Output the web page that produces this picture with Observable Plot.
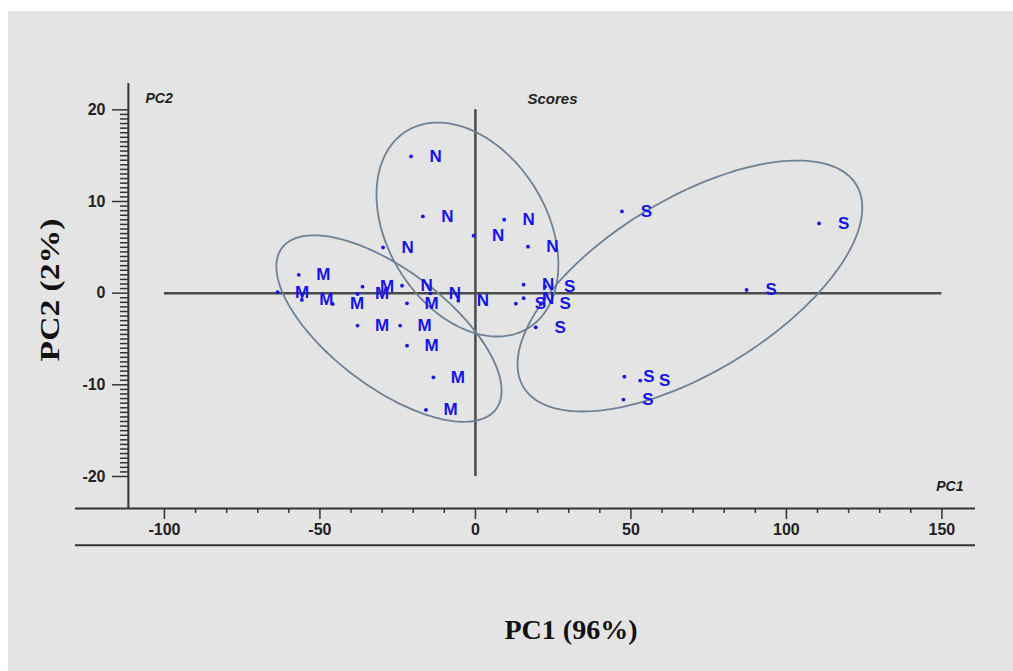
<!DOCTYPE html>
<html><head><meta charset="utf-8">
<script src="https://cdn.jsdelivr.net/npm/d3@7"></script>
<script src="https://cdn.jsdelivr.net/npm/@observablehq/plot@0.6"></script>
<style>
body{margin:0;background:#fff;width:1013px;height:671px;overflow:hidden;position:relative}
#panel{position:absolute;left:8px;top:11px;width:1005px;height:660px;background:#e4e4e4}
#chart{position:absolute;left:0;top:0}
.ytitle{position:absolute;left:50px;top:290px;transform:translate(-50%,-50%) rotate(-90deg) scaleX(1.2);font:bold 28px "Liberation Serif","Times New Roman",serif;white-space:nowrap;color:#111}
.xtitle{position:absolute;left:571px;top:630px;transform:translate(-50%,-50%);font:bold 28px "Liberation Serif","Times New Roman",serif;white-space:nowrap;color:#111}
</style>
</head><body>
<div id="panel"></div>
<div id="chart"></div>
<div class="ytitle">PC2 (2%)</div>
<div class="xtitle">PC1 (96%)</div>
<script>
// Scores, group M
const mX = [-56.8,-63.6,-55.8,-45.9,-37.9,-36.3,-37.9,-24.2,-22.0,-22.0,-13.5,-15.9];
const mY = [2.0,0.1,-0.74,-1.18,-0.09,0.71,-3.54,-3.54,-1.11,-5.73,-9.18,-12.74];
// group N
const nX = [-20.7,-16.9,-29.7,-0.6,9.25,16.9,15.5,15.5,-23.6,-14.5,-5.5];
const nY = [14.92,8.37,4.99,6.27,8.02,5.07,0.93,-0.55,0.82,-0.02,-0.82];
// group S
const sX = [47.1,110.5,87.2,22.4,13.0,21.0,19.4,47.9,53.0,47.6];
const sY = [8.92,7.61,0.35,0.71,-1.15,-1.18,-3.73,-9.11,-9.54,-11.61];

// confidence ellipses: center and two conjugate half-axis vectors (data units)
const ellGroups = ["M","N","S"];
const ellCx = [-27.8,-2.57,68.97];
const ellCy = [-3.86,6.94,0.78];
const ellAx = [34.4,19.6,53.5];
const ellAy = [-8.8,-10.74,11.04];
const ellBx = [-11.3,-21.7,14.5];
const ellBy = [-5.1,-4.56,-8.09];

// axes
const xMajor = [-100,-50,0,50,100,150];
const xMinor = d3.range(-90,141,10).filter(v => v % 50 !== 0);
const yMajor = [-20,-10,0,10,20];
const yMinor = d3.range(-20,20.01,0.5).filter(v => v % 10 !== 0);
const xDomain = [-128.6,160.8];
const yDomain = [-23.49,22.87];
const yAxisAt = -111.6;
const secondLineAt = -27.5;

const pts = [
  ...mX.map((x,i)=>({x, y:mY[i], g:"M"})),
  ...nX.map((x,i)=>({x, y:nY[i], g:"N"})),
  ...sX.map((x,i)=>({x, y:sY[i], g:"S"}))
];
const ellPts = [];
ellGroups.forEach((g,k)=>{
  for (let j=0;j<=180;j++){
    const t = 2*Math.PI*j/180;
    ellPts.push({g, x: ellCx[k]+ellAx[k]*Math.cos(t)+ellBx[k]*Math.sin(t),
                    y: ellCy[k]+ellAy[k]*Math.cos(t)+ellBy[k]*Math.sin(t)});
  }
});

const blue = "#1414e6";
const axisCol = "#333";
const tickFont = {fontSize:16, fontWeight:"bold", fill:"#222"};
const fmt = d => String(d);

const plot = Plot.plot({
  width:1013, height:671,
  marginLeft:75, marginRight:38, marginTop:83, marginBottom:163,
  x:{domain:xDomain},
  y:{domain:yDomain},
  style:{background:"transparent", fontFamily:"'Liberation Sans', Arial, sans-serif", overflow:"visible"},
  marks:[
    // axis lines
    Plot.ruleY([yDomain[0]], {x1:xDomain[0], x2:xDomain[1], stroke:axisCol, strokeWidth:2}),
    Plot.ruleY([secondLineAt], {x1:xDomain[0], x2:xDomain[1], stroke:axisCol, strokeWidth:2}),
    Plot.ruleX([yAxisAt], {y1:yDomain[0], y2:yDomain[1], stroke:axisCol, strokeWidth:2}),
    // x ticks
    Plot.axisX(xMinor, {anchor:"bottom", tickSize:5, tickFormat:()=>"", stroke:axisCol, strokeWidth:1.5, label:null}),
    Plot.axisX(xMajor, {anchor:"bottom", tickSize:11, tickPadding:4, tickFormat:fmt, stroke:axisCol, strokeWidth:1.5, label:null, ...tickFont}),
    // y ticks
    Plot.axisY(yMinor, {anchor:"left", dx:53, tickSize:8, tickFormat:()=>"", stroke:axisCol, strokeWidth:1.5, label:null}),
    Plot.axisY(yMajor, {anchor:"left", dx:53, tickSize:16, tickPadding:7, tickFormat:fmt, stroke:axisCol, strokeWidth:1.5, label:null, ...tickFont}),
    // zero cross lines
    Plot.ruleY([0], {x1:xMajor[0], x2:xMajor[xMajor.length-1], stroke:"#4a4a4a", strokeWidth:2.5}),
    Plot.ruleX([0], {y1:yMajor[0], y2:yMajor[yMajor.length-1], stroke:"#4a4a4a", strokeWidth:2.5}),
    // ellipses
    Plot.line(ellPts, {x:"x", y:"y", z:"g", stroke:"#6d8094", strokeWidth:1.8}),
    // points + letters
    Plot.dot(pts, {x:"x", y:"y", r:1.9, fill:blue, stroke:null}),
    Plot.text(pts, {x:"x", y:"y", text:"g", dx:24.5, fontSize:17, fontWeight:"bold", fill:blue}),
    // corner labels
    Plot.text(["PC2"], {frameAnchor:"top-left", dx:70, dy:10, textAnchor:"start", fontSize:14, fontWeight:"bold", fontStyle:"italic", fill:"#222"}),
    Plot.text(["Scores"], {frameAnchor:"top-left", dx:452, dy:10, textAnchor:"start", fontSize:15, fontWeight:"bold", fontStyle:"italic", fill:"#222"}),
    Plot.text(["PC1"], {frameAnchor:"bottom-right", dx:-12, dy:-18, textAnchor:"end", fontSize:14, fontWeight:"bold", fontStyle:"italic", fill:"#222"})
  ]
});
document.getElementById("chart").appendChild(plot);
</script>
</body></html>
